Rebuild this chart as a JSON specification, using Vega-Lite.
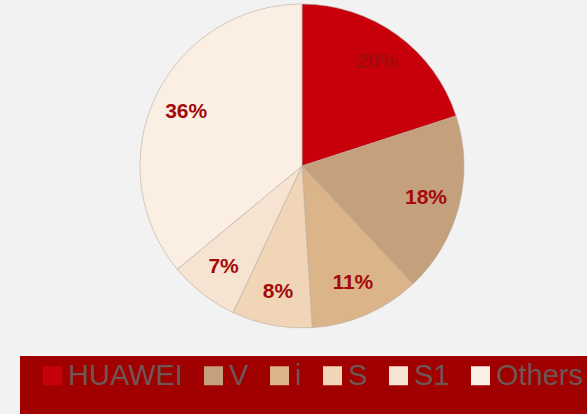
{
  "$schema": "https://vega.github.io/schema/vega-lite/v6.json",
  "width": 570,
  "height": 332,
  "autosize": "none",
  "padding": {"left": 17, "top": 0, "right": 0, "bottom": 82},
  "background": "#f2f2f2",
  "data": {
    "values": [
      {"brand": "HUAWEI", "share": 20, "idx": 1},
      {"brand": "V", "share": 18, "idx": 2},
      {"brand": "i", "share": 11, "idx": 3},
      {"brand": "S", "share": 8, "idx": 4},
      {"brand": "S1", "share": 7, "idx": 5},
      {"brand": "Others", "share": 36, "idx": 6}
    ]
  },
  "encoding": {
    "theta": {"field": "share", "type": "quantitative", "stack": true},
    "order": {"field": "idx", "type": "quantitative"}
  },
  "layer": [
    {
      "mark": {"type": "arc", "outerRadius": 162, "stroke": "#b8ad9f", "strokeWidth": 0.6},
      "encoding": {
        "color": {
          "field": "brand",
          "type": "nominal",
          "sort": ["HUAWEI", "V", "i", "S", "S1", "Others"],
          "scale": {
            "domain": ["HUAWEI", "V", "i", "S", "S1", "Others"],
            "range": ["#c8000c", "#c4a07c", "#dcb48a", "#f0d5b6", "#f7e3d1", "#fbeee3"]
          },
          "legend": {
            "orient": "none",
            "legendX": 3,
            "legendY": 356,
            "direction": "horizontal",
            "title": " ",
            "titleOrient": "bottom",
            "titleFontSize": 20,
            "titlePadding": 4,
            "fillColor": "#a00000",
            "padding": 5,
            "symbolOffset": 13,
            "symbolType": "square",
            "symbolSize": 361,
            "symbolStrokeWidth": 0,
            "symbolOpacity": 1,
            "labelFont": "Liberation Sans",
            "labelFontSize": 29,
            "labelColor": "#6e5656",
            "labelOffset": 1,
            "columnPadding": 3
          }
        }
      }
    },
    {
      "mark": {
        "type": "text",
        "radius": 128,
        "font": "Liberation Sans",
        "fontSize": 21,
        "fontWeight": "bold",
        "color": "#a30a0a"
      },
      "encoding": {
        "text": {"field": "label", "type": "nominal"}
      },
      "transform": [{"calculate": "datum.share + '%'", "as": "label"}]
    }
  ]
}
